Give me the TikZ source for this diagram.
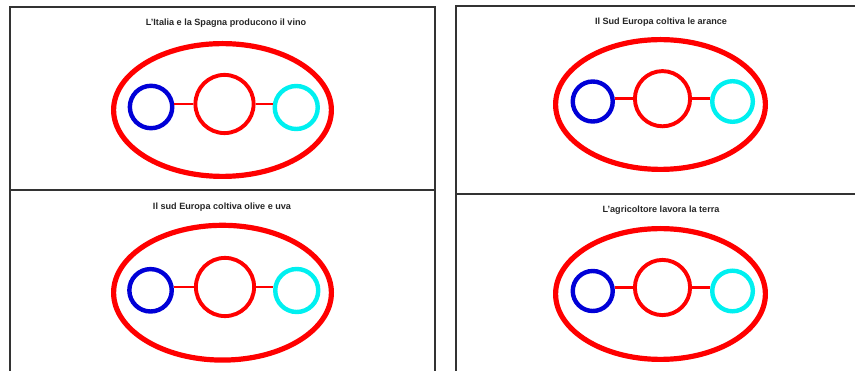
\documentclass[tikz,border=0pt]{standalone}
\usepackage{fontspec}
\setmainfont{Liberation Sans}
\usepackage{tikz}
\usetikzlibrary{positioning,shapes.geometric}
\definecolor{ringcyan}{RGB}{0,240,240}
\definecolor{ringblue}{RGB}{0,0,215}

\begin{document}
\begin{tikzpicture}[x=1pt, y=-1pt,
    frame/.style={draw=black!80, line width=1.4pt},
    caption/.style={font=\fontsize{9.1}{10}\selectfont\bfseries, text=black!85,
        inner sep=0pt},
    outer/.style={ellipse, draw=red, line width=5.2pt, inner sep=0pt},
    core/.style={circle, draw=red, line width=3.9pt, inner sep=0pt},
    leftc/.style={circle, draw=ringblue, line width=4.4pt, inner sep=0pt},
    rightc/.style={circle, draw=ringcyan, line width=4.4pt, inner sep=0pt},
    link/.style={draw=red, line width=2.9pt},
]
\useasboundingbox (0,0) rectangle (855,371);

% Panel frames
\draw[frame] (10,371) -- (10,7) -- (435,7) -- (435,371);
\draw[frame] (10,190) -- (435,190);
\draw[frame] (456,371) -- (456,6) -- (855,6);
\draw[frame] (456,194) -- (855,194);

% Top left panel
\node[caption] (t1) at (226,23) {L'Italia e la Spagna producono il vino};
\node[outer, minimum width=217.8pt, minimum height=132.8pt] (e1) at (222.5,110) {};
\node[core, minimum size=58.2pt] (m1) at (224.5,104) {};
\node[leftc, minimum size=42.4pt, left=19pt of m1, yshift=-3pt] (b1) {};
\node[rightc, minimum size=43pt, right=17pt of m1, yshift=-3.5pt] (c1) {};
\draw[link] (m1.west) -- (m1.west -| b1.east);
\draw[link] (m1.east) -- (m1.east -| c1.west);

% Top right panel
\node[caption] (t2) at (661,22) {Il Sud Europa coltiva le arance};
\node[outer, minimum width=209.8pt, minimum height=129.8pt] (e2) at (660.5,104.5) {};
\node[core, minimum size=55.2pt] (m2) at (662.5,98.7) {};
\node[leftc, minimum size=40pt, left=18pt of m2, yshift=-2.8pt] (b2) {};
\node[rightc, minimum size=40.6pt, right=18pt of m2, yshift=-2.8pt] (c2) {};
\draw[link] (m2.west) -- (m2.west -| b2.east);
\draw[link] (m2.east) -- (m2.east -| c2.west);

% Bottom left panel
\node[caption] (t3) at (222,206.7) {Il sud Europa coltiva olive e uva};
\node[outer, minimum width=217.8pt, minimum height=134.8pt] (e3) at (222.5,292.7) {};
\node[core, minimum size=58.2pt] (m3) at (225,287) {};
\node[leftc, minimum size=42.4pt, left=20pt of m3, yshift=-3.3pt] (b3) {};
\node[rightc, minimum size=43pt, right=17pt of m3, yshift=-3.5pt] (c3) {};
\draw[link] (m3.west) -- (m3.west -| b3.east);
\draw[link] (m3.east) -- (m3.east -| c3.west);

% Bottom right panel
\node[caption] (t4) at (661,210) {L'agricoltore lavora la terra};
\node[outer, minimum width=209.8pt, minimum height=130.8pt] (e4) at (660.5,294) {};
\node[core, minimum size=55.2pt] (m4) at (662.5,287.5) {};
\node[leftc, minimum size=40pt, left=18pt of m4, yshift=-3.5pt] (b4) {};
\node[rightc, minimum size=40.6pt, right=18pt of m4, yshift=-3.5pt] (c4) {};
\draw[link] (m4.west) -- (m4.west -| b4.east);
\draw[link] (m4.east) -- (m4.east -| c4.west);

\end{tikzpicture}
\end{document}
